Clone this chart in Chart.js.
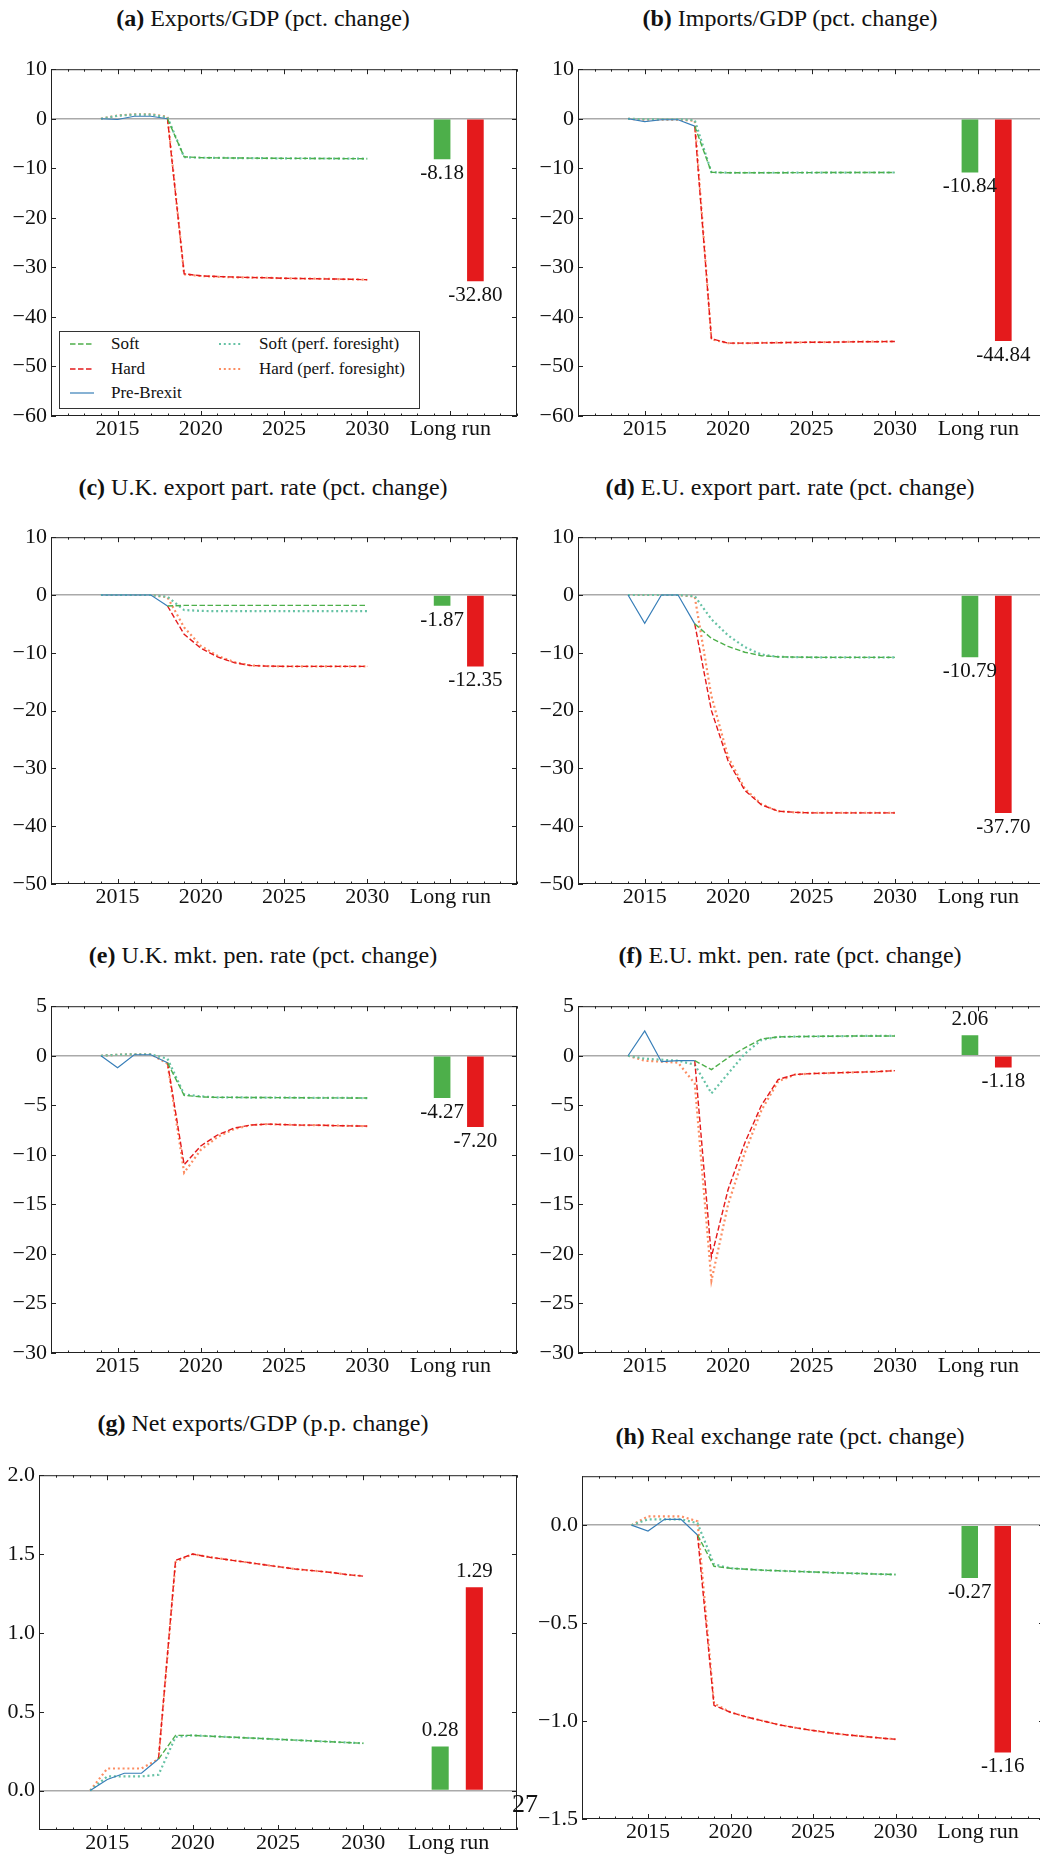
<!DOCTYPE html>
<html>
<head>
<meta charset="utf-8">
<title>Brexit scenarios</title>
<script src="https://cdn.jsdelivr.net/npm/chart.js@4.4.1/dist/chart.umd.min.js"></script>
<style>
  body { margin: 0; background: #fff; overflow: hidden; font-family: "Liberation Serif", serif; }
  #page { position: relative; width: 1040px; height: 1854px; overflow: hidden; }
  .title { position: absolute; width: 526px; text-align: center; font-size: 24px; line-height: 28px; color: #111; }
  canvas { position: absolute; }
  #legend { position: absolute; left: 59px; top: 331px; width: 359px; height: 76px; border: 1px solid #333; background: #fff; font-size: 17px; color: #111; }
  #legend span { position: absolute; line-height: 18px; }
  #legend svg { position: absolute; }
  #pageno { position: absolute; left: 512px; top: 1789px; font-size: 26px; line-height: 30px; color: #111; }
</style>
</head>
<body>
<div id="page">
  <div class="title" style="left:0;top:4px"><b>(a)</b> Exports/GDP (pct. change)</div>
  <div class="title" style="left:527px;top:4px"><b>(b)</b> Imports/GDP (pct. change)</div>
  <div class="title" style="left:0;top:473px"><b>(c)</b> U.K. export part. rate (pct. change)</div>
  <div class="title" style="left:527px;top:473px"><b>(d)</b> E.U. export part. rate (pct. change)</div>
  <div class="title" style="left:0;top:941px"><b>(e)</b> U.K. mkt. pen. rate (pct. change)</div>
  <div class="title" style="left:527px;top:941px"><b>(f)</b> E.U. mkt. pen. rate (pct. change)</div>
  <div class="title" style="left:0;top:1409px"><b>(g)</b> Net exports/GDP (p.p. change)</div>
  <div class="title" style="left:527px;top:1422px"><b>(h)</b> Real exchange rate (pct. change)</div>

  <canvas id="ca" width="520" height="396" style="left:0;top:52px"></canvas>
  <canvas id="cb" width="527" height="396" style="left:520px;top:52px"></canvas>
  <canvas id="cc" width="520" height="396" style="left:0;top:520px"></canvas>
  <canvas id="cd" width="527" height="396" style="left:520px;top:520px"></canvas>
  <canvas id="ce" width="520" height="396" style="left:0;top:989px"></canvas>
  <canvas id="cf" width="527" height="396" style="left:520px;top:989px"></canvas>
  <canvas id="cg" width="520" height="404" style="left:0;top:1458px"></canvas>
  <canvas id="ch" width="527" height="392" style="left:520px;top:1459px"></canvas>

  <div id="legend">
    <svg style="left:10px;top:10px" width="24" height="4"><line x1="0" y1="2" x2="24" y2="2" stroke="#4daf4a" stroke-width="1.4" stroke-dasharray="5.5 2.5"/></svg>
    <span style="left:51px;top:3px">Soft</span>
    <svg style="left:10px;top:35px" width="24" height="4"><line x1="0" y1="2" x2="24" y2="2" stroke="#e41a1c" stroke-width="1.4" stroke-dasharray="5.5 2.5"/></svg>
    <span style="left:51px;top:28px">Hard</span>
    <svg style="left:10px;top:59px" width="24" height="4"><line x1="0" y1="2" x2="24" y2="2" stroke="#377eb8" stroke-width="1.2"/></svg>
    <span style="left:51px;top:52px">Pre-Brexit</span>
    <svg style="left:159px;top:10px" width="24" height="4"><line x1="0" y1="2" x2="24" y2="2" stroke="#66c2a5" stroke-width="2.2" stroke-dasharray="2 2.8"/></svg>
    <span style="left:199px;top:3px">Soft (perf. foresight)</span>
    <svg style="left:159px;top:35px" width="24" height="4"><line x1="0" y1="2" x2="24" y2="2" stroke="#fc8d62" stroke-width="2.2" stroke-dasharray="2 2.8"/></svg>
    <span style="left:199px;top:28px">Hard (perf. foresight)</span>
  </div>

  <div id="pageno">27</div>
</div>

<script>
// years on the horizontal axis
const yearsPre = [2014, 2015, 2016, 2017, 2018];
const yearsPost = [2018, 2019, 2020, 2021, 2022, 2023, 2024, 2025, 2026, 2027, 2028, 2029, 2030];
const yearsAll = [2014, 2015, 2016, 2017, 2018, 2019, 2020, 2021, 2022, 2023, 2024, 2025, 2026, 2027, 2028, 2029, 2030];
const longRunX = [2034.5, 2036.5];
const xTickValues = [2015, 2020, 2025, 2030, 2035];
const xTickLabels = ['2015', '2020', '2025', '2030', 'Long run'];

// (a) Exports/GDP
const preA = [0, -0.15, 0.5, 0.5, 0];
const softA = [0, -7.7, -7.85, -7.9, -7.92, -7.95, -7.97, -7.99, -8.0, -8.02, -8.03, -8.05, -8.07];
const hardA = [0, -31.3, -31.7, -31.85, -31.95, -32.05, -32.1, -32.2, -32.25, -32.3, -32.35, -32.4, -32.5];
const softPfA = [0, 0.6, 0.85, 0.85, 0.3, -7.75, -7.87, -7.9, -7.93, -7.95, -7.97, -7.99, -8.0, -8.02, -8.03, -8.05, -8.07];
const hardPfA = [0, 0.65, 0.9, 0.9, 0.4, -31.4, -31.75, -31.9, -32.0, -32.05, -32.1, -32.2, -32.25, -32.3, -32.35, -32.4, -32.5];
const longA = [-8.18, -32.80];
const yTicksA = [10, 0, -10, -20, -30, -40, -50, -60];

// (b) Imports/GDP
const preB = [0, -0.6, -0.2, -0.2, -1.5];
const softB = [-1.5, -10.8, -10.9, -10.9, -10.9, -10.9, -10.88, -10.87, -10.86, -10.86, -10.85, -10.85, -10.85];
const hardB = [-1.5, -44.4, -45.3, -45.3, -45.25, -45.2, -45.15, -45.1, -45.1, -45.05, -45.0, -45.0, -44.95];
const softPfB = [0, -0.1, -0.1, -0.1, -0.3, -10.8, -10.9, -10.9, -10.9, -10.9, -10.88, -10.87, -10.86, -10.86, -10.85, -10.85, -10.85];
const hardPfB = [0, -0.2, -0.2, -0.2, -0.4, -44.5, -45.3, -45.3, -45.25, -45.2, -45.15, -45.1, -45.1, -45.05, -45.0, -45.0, -44.95];
const longB = [-10.84, -44.84];
const yTicksB = [10, 0, -10, -20, -30, -40, -50, -60];

// (c) U.K. export participation rate
const preC = [0, 0, 0, 0, -1.9];
const softC = [-1.9, -1.8, -1.8, -1.8, -1.8, -1.8, -1.8, -1.8, -1.8, -1.8, -1.8, -1.8, -1.8];
const hardC = [-1.9, -6.8, -9.2, -10.7, -11.7, -12.2, -12.3, -12.35, -12.35, -12.35, -12.35, -12.35, -12.35];
const softPfC = [0, 0, 0, 0, -0.3, -2.6, -2.75, -2.8, -2.8, -2.8, -2.8, -2.8, -2.8, -2.8, -2.8, -2.8, -2.8];
const hardPfC = [0, 0, 0, 0, -0.4, -5.6, -8.8, -10.5, -11.6, -12.2, -12.3, -12.35, -12.35, -12.35, -12.35, -12.35, -12.35];
const longC = [-1.87, -12.35];
const yTicksC = [10, 0, -10, -20, -30, -40, -50];

// (d) E.U. export participation rate
const preD = [0, -4.9, 0, 0, -5.0];
const softD = [-5.0, -7.5, -8.9, -9.9, -10.5, -10.7, -10.75, -10.78, -10.79, -10.79, -10.79, -10.79, -10.79];
const hardD = [-5.0, -20.0, -28.7, -33.8, -36.3, -37.4, -37.6, -37.7, -37.7, -37.7, -37.7, -37.7, -37.7];
const softPfD = [0, 0, 0, 0, -0.2, -4.2, -7.0, -9.0, -10.3, -10.7, -10.75, -10.78, -10.79, -10.79, -10.79, -10.79, -10.79];
const hardPfD = [0, 0, 0, 0, -0.3, -17.5, -28.0, -33.5, -36.2, -37.4, -37.6, -37.7, -37.7, -37.7, -37.7, -37.7, -37.7];
const longD = [-10.79, -37.70];
const yTicksD = [10, 0, -10, -20, -30, -40, -50];

// (e) U.K. market penetration rate
const preE = [0, -1.2, 0.1, 0.1, -0.7];
const softE = [-0.7, -4.0, -4.15, -4.2, -4.2, -4.22, -4.22, -4.23, -4.24, -4.25, -4.25, -4.26, -4.27];
const hardE = [-0.7, -11.0, -9.1, -8.0, -7.3, -7.0, -6.9, -6.95, -7.0, -7.0, -7.05, -7.08, -7.1];
const softPfE = [0, 0.1, 0.15, 0.15, -0.3, -3.9, -4.1, -4.2, -4.2, -4.22, -4.22, -4.23, -4.24, -4.25, -4.25, -4.26, -4.27];
const hardPfE = [0, 0.1, 0.15, 0.15, -0.8, -11.8, -9.5, -8.2, -7.4, -7.0, -6.9, -6.95, -7.0, -7.0, -7.05, -7.08, -7.1];
const longE = [-4.27, -7.20];
const yTicksE = [5, 0, -5, -10, -15, -20, -25, -30];

// (f) E.U. market penetration rate
const preF = [0, 2.5, -0.6, -0.5, -0.5];
const softF = [-0.5, -1.4, -0.2, 0.8, 1.7, 1.9, 1.93, 1.95, 1.97, 1.98, 2.0, 2.0, 2.0];
const hardF = [-0.5, -20.3, -13.5, -8.8, -5.0, -2.4, -1.9, -1.8, -1.75, -1.7, -1.65, -1.6, -1.5];
const softPfF = [0, -0.3, -0.4, -0.5, -0.9, -3.8, -1.8, 0.2, 1.6, 1.9, 1.93, 1.95, 1.97, 1.98, 2.0, 2.0, 2.0];
const hardPfF = [0, -0.5, -0.6, -0.7, -2.8, -22.7, -15.0, -9.8, -5.5, -2.6, -1.9, -1.8, -1.75, -1.7, -1.65, -1.6, -1.5];
const longF = [2.06, -1.18];
const yTicksF = [5, 0, -5, -10, -15, -20, -25, -30];

// (g) Net exports/GDP
const preG = [0, 0.07, 0.11, 0.11, 0.2];
const softG = [0.2, 0.35, 0.35, 0.345, 0.34, 0.335, 0.33, 0.325, 0.32, 0.315, 0.31, 0.305, 0.30];
const hardG = [0.2, 1.46, 1.5, 1.48, 1.465, 1.45, 1.435, 1.42, 1.405, 1.395, 1.385, 1.37, 1.36];
const softPfG = [0, 0.09, 0.09, 0.09, 0.1, 0.34, 0.35, 0.345, 0.34, 0.335, 0.33, 0.325, 0.32, 0.315, 0.31, 0.305, 0.30];
const hardPfG = [0, 0.14, 0.14, 0.14, 0.2, 1.45, 1.5, 1.48, 1.465, 1.45, 1.435, 1.42, 1.405, 1.395, 1.385, 1.37, 1.36];
const longG = [0.28, 1.29];
const yTicksG = [0, 0.5, 1.0, 1.5, 2.0];

// (h) Real exchange rate
const preH = [0, -0.03, 0.03, 0.03, -0.05];
const softH = [-0.05, -0.21, -0.22, -0.225, -0.23, -0.233, -0.236, -0.239, -0.242, -0.245, -0.247, -0.25, -0.252];
const hardH = [-0.05, -0.92, -0.955, -0.98, -1.0, -1.02, -1.035, -1.048, -1.06, -1.07, -1.078, -1.086, -1.093];
const softPfH = [0, 0.03, 0.03, 0.03, 0.01, -0.2, -0.22, -0.225, -0.23, -0.233, -0.236, -0.239, -0.242, -0.245, -0.247, -0.25, -0.252];
const hardPfH = [0, 0.045, 0.045, 0.045, 0.02, -0.91, -0.955, -0.98, -1.0, -1.02, -1.035, -1.048, -1.06, -1.07, -1.078, -1.086, -1.093];
const longH = [-0.27, -1.16];
const yTicksH = [0, -0.5, -1.0, -1.5];

const GREEN = '#4daf4a', RED = '#e41a1c', BLUE = '#377eb8', TEAL = '#66c2a5', ORANGE = '#fc8d62';

Chart.defaults.font.family = '"Liberation Serif", serif';
Chart.defaults.font.size = 22;
Chart.defaults.color = '#111';

function pts(xs, ys) {
    return xs.map((x, i) => ({ x: x, y: ys[i] }));
}

// box around the plot with inward ticks, like the original figure
const framePlugin = {
    id: 'frame',
    afterDatasetsDraw(chart) {
        const { ctx, chartArea: a, scales: { x, y } } = chart;
        ctx.save();
        ctx.strokeStyle = '#222';
        ctx.lineWidth = 1;
        ctx.strokeRect(a.left + 0.5, a.top + 0.5, a.width - 1, a.height - 1);
        ctx.beginPath();
        for (let yr = Math.ceil(x.min); yr <= x.max; yr++) {
            const len = xTickValues.includes(yr) ? 5 : 2.5;
            const px = Math.round(x.getPixelForValue(yr)) + 0.5;
            ctx.moveTo(px, a.bottom); ctx.lineTo(px, a.bottom - len);
            ctx.moveTo(px, a.top); ctx.lineTo(px, a.top + len);
        }
        y.ticks.forEach(t => {
            const py = Math.round(y.getPixelForValue(t.value)) + 0.5;
            ctx.moveTo(a.left, py); ctx.lineTo(a.left + 5, py);
            ctx.moveTo(a.right, py); ctx.lineTo(a.right - 5, py);
        });
        ctx.stroke();
        ctx.restore();
    }
};

// value printed under (or above) each long-run bar
const barLabelPlugin = {
    id: 'barLabels',
    afterDatasetsDraw(chart) {
        const ctx = chart.ctx;
        chart.data.datasets.forEach((ds, di) => {
            if (ds.type !== 'bar') return;
            chart.getDatasetMeta(di).data.forEach((bar, i) => {
                const v = ds.data[i].y;
                ctx.save();
                ctx.font = '21px "Liberation Serif", serif';
                ctx.fillStyle = '#111';
                ctx.textAlign = 'center';
                if (v < 0) {
                    ctx.textBaseline = 'top';
                    ctx.fillText(v.toFixed(2), bar.x, bar.y + 4);
                } else {
                    ctx.textBaseline = 'alphabetic';
                    ctx.fillText(v.toFixed(2), bar.x, bar.y - 10);
                }
                ctx.restore();
            });
        });
    }
};

function drawPanel(id, p, g) {
    const data = {
        datasets: [
            { label: 'Pre-Brexit', data: pts(yearsPre, p.pre), borderColor: BLUE, borderWidth: 1.2 },
            { label: 'Soft', data: pts(yearsPost, p.soft), borderColor: GREEN, borderWidth: 1.4, borderDash: [5.5, 2.5] },
            { label: 'Hard', data: pts(yearsPost, p.hard), borderColor: RED, borderWidth: 1.4, borderDash: [5.5, 2.5] },
            { label: 'Soft (perf. foresight)', data: pts(yearsAll, p.softPf), borderColor: TEAL, borderWidth: 2.2, borderDash: [2, 2.8] },
            { label: 'Hard (perf. foresight)', data: pts(yearsAll, p.hardPf), borderColor: ORANGE, borderWidth: 2.2, borderDash: [2, 2.8] },
            {
                type: 'bar',
                label: 'Long run',
                data: pts(longRunX, p.long),
                backgroundColor: [GREEN, RED],
                categoryPercentage: 1,
                barPercentage: 0.5
            }
        ]
    };

    const config = {
        type: 'line',
        data: data,
        options: {
            responsive: false,
            animation: false,
            events: [],
            elements: { point: { radius: 0 }, line: { tension: 0, fill: false } },
            layout: { padding: { top: g.padTop, right: g.padRight, left: 0, bottom: 0 } },
            plugins: { legend: { display: false }, tooltip: { enabled: false } },
            scales: {
                x: {
                    type: 'linear',
                    min: 2011,
                    max: 2039,
                    offset: false,
                    grid: { display: false, drawTicks: false },
                    border: { display: false },
                    afterBuildTicks: s => { s.ticks = xTickValues.map(v => ({ value: v })); },
                    afterFit: s => { s.height = g.xh; },
                    ticks: {
                        autoSkip: false,
                        maxRotation: 0,
                        padding: 0,
                        callback: (v, i) => xTickLabels[i]
                    }
                },
                y: {
                    min: p.yMin,
                    max: p.yMax,
                    grid: {
                        drawTicks: false,
                        lineWidth: 1.5,
                        color: c => (c.tick && c.tick.value === 0) ? '#aaaaaa' : 'rgba(0,0,0,0)'
                    },
                    border: { display: false },
                    afterBuildTicks: s => { s.ticks = p.yTicks.map(v => ({ value: v })); },
                    afterFit: s => { s.width = g.yw; },
                    ticks: {
                        padding: 4,
                        callback: v => (v < 0 ? '\u2212' : '') + Math.abs(v).toFixed(p.dec)
                    }
                }
            }
        },
        plugins: [framePlugin, barLabelPlugin]
    };

    return new Chart(document.getElementById(id), config);
}

const wideL = { yw: 51, padTop: 14, padRight: 3, xh: 32 };
const wideR = { yw: 58, padTop: 14, padRight: 2, xh: 32 };

drawPanel('ca', { pre: preA, soft: softA, hard: hardA, softPf: softPfA, hardPf: hardPfA, long: longA, yTicks: yTicksA, yMin: -60, yMax: 10, dec: 0 }, wideL);
drawPanel('cb', { pre: preB, soft: softB, hard: hardB, softPf: softPfB, hardPf: hardPfB, long: longB, yTicks: yTicksB, yMin: -60, yMax: 10, dec: 0 }, wideR);
drawPanel('cc', { pre: preC, soft: softC, hard: hardC, softPf: softPfC, hardPf: hardPfC, long: longC, yTicks: yTicksC, yMin: -50, yMax: 10, dec: 0 }, wideL);
drawPanel('cd', { pre: preD, soft: softD, hard: hardD, softPf: softPfD, hardPf: hardPfD, long: longD, yTicks: yTicksD, yMin: -50, yMax: 10, dec: 0 }, wideR);
drawPanel('ce', { pre: preE, soft: softE, hard: hardE, softPf: softPfE, hardPf: hardPfE, long: longE, yTicks: yTicksE, yMin: -30, yMax: 5, dec: 0 }, wideL);
drawPanel('cf', { pre: preF, soft: softF, hard: hardF, softPf: softPfF, hardPf: hardPfF, long: longF, yTicks: yTicksF, yMin: -30, yMax: 5, dec: 0 }, wideR);
drawPanel('cg', { pre: preG, soft: softG, hard: hardG, softPf: softPfG, hardPf: hardPfG, long: longG, yTicks: yTicksG, yMin: -0.25, yMax: 2.0, dec: 1 }, { yw: 39, padTop: 14, padRight: 3, xh: 32 });
drawPanel('ch', { pre: preH, soft: softH, hard: hardH, softPf: softPfH, hardPf: hardPfH, long: longH, yTicks: yTicksH, yMin: -1.5, yMax: 0.25, dec: 1 }, { yw: 62, padTop: 14, padRight: 3, xh: 32 });
</script>
</body>
</html>
